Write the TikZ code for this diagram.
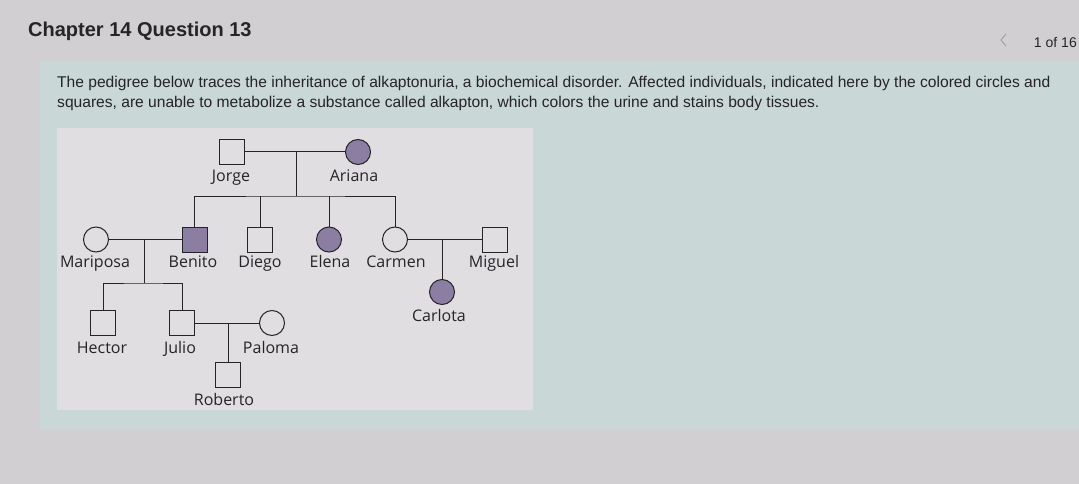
\documentclass[tikz,border=0pt]{standalone}
\usepackage{fontspec}
\setmainfont{Liberation Sans}
\newfontfamily\pedfont{Open Sans}
\definecolor{bgcol}{RGB}{210,207,210}
\definecolor{tealcol}{RGB}{201,215,215}
\definecolor{panelcol}{RGB}{224,222,225}
\definecolor{affcol}{RGB}{140,126,162}
\definecolor{inkcol}{RGB}{38,36,40}
\definecolor{chevcol}{RGB}{165,160,165}
\tikzset{
  x=1pt, y=-1pt,
  person/.style={draw=inkcol, line width=1pt, minimum size=25pt, inner sep=0pt},
  sq/.style={person, rectangle},
  ci/.style={person, circle},
  aff/.style={fill=affcol},
  unaff/.style={fill=panelcol},
  pname/.style={font=\pedfont\fontsize{16}{18}\selectfont, text=inkcol, inner sep=0pt, anchor=base},
  link/.style={draw=inkcol, line width=1pt},
  bodytext/.style={font=\fontsize{15.6}{20}\selectfont, text=inkcol, inner sep=0pt, anchor=base west},
}
\begin{document}
\begin{tikzpicture}
\useasboundingbox (0,0) rectangle (1079,484);
% backgrounds
\fill[bgcol] (0,0) rectangle (1079,484);
\fill[tealcol] (40,62) rectangle (1079,430);
\fill[panelcol] (57,128) rectangle (533,410);
% header
\node[font=\bfseries\fontsize{20}{24}\selectfont, text=inkcol, inner sep=0pt, anchor=base west] (title) at (28,37) {Chapter 14 Question 13};
\draw[chevcol, line width=1pt, line cap=round, line join=round] (1006,34) -- (1001,40) -- (1006,46);
\node[font=\fontsize{14}{17}\selectfont, text=inkcol, inner sep=0pt, anchor=base east] (pager) at (1077,48) {1 of 16};
\node[bodytext] (line1) at (57,88) {The pedigree below traces the inheritance of alkaptonuria, a biochemical disorder. Affected individuals, indicated here by the colored circles and};
\node[bodytext] (line2) at (57,108) {squares, are unable to metabolize a substance called alkapton, which colors the urine and stains body tissues.};
% individuals
\node[sq, unaff] (jorge) at (232,152) {};
\node[ci, aff] (ariana) at (358,152) {};
\node[ci, unaff] (mariposa) at (96,239.5) {};
\node[sq, aff] (benito) at (194.5,239.5) {};
\node[sq, unaff] (diego) at (260,239.5) {};
\node[ci, aff] (elena) at (329,239.5) {};
\node[ci, unaff] (carmen) at (395,239.5) {};
\node[sq, unaff] (miguel) at (494.5,239.5) {};
\node[ci, aff] (carlota) at (442,292) {};
\node[sq, unaff] (hector) at (103,323) {};
\node[sq, unaff] (julio) at (182,323) {};
\node[ci, unaff] (paloma) at (272,323) {};
\node[sq, unaff] (roberto) at (228,375) {};
% names
\node[pname] (tjorge) at (231,181) {Jorge};
\node[pname] (tariana) at (354,181) {Ariana};
\node[pname] (tmariposa) at (95,267) {Mariposa};
\node[pname] (tbenito) at (193,267) {Benito};
\node[pname] (tdiego) at (260,267) {Diego};
\node[pname] (telena) at (330,267) {Elena};
\node[pname] (tcarmen) at (396,267) {Carmen};
\node[pname] (tmiguel) at (494,267) {Miguel};
\node[pname] (tcarlota) at (439,321) {Carlota};
\node[pname] (thector) at (102,353) {Hector};
\node[pname] (tjulio) at (180,353) {Julio};
\node[pname] (tpaloma) at (271,353) {Paloma};
\node[pname] (troberto) at (224,405) {Roberto};
% couples and descent
\coordinate (m1) at (296,152);
\coordinate (s1) at (296,196);
\coordinate (m2) at (144,239.5);
\coordinate (s2) at (144,283);
\coordinate (m3) at (442,239.5);
\coordinate (m4) at (228,323);
\draw[link] (jorge) -- (ariana);
\draw[link] (m1) -- (s1);
\draw[link] (benito.north) |- (s1) -| (carmen.north);
\draw[link] (diego.north) -- (diego.north |- s1);
\draw[link] (elena.north) -- (elena.north |- s1);
\draw[link] (mariposa) -- (benito);
\draw[link] (m2) -- (s2);
\draw[link] (hector.north) |- (s2) -| (julio.north);
\draw[link] (carmen) -- (miguel);
\draw[link] (m3) -- (carlota.north);
\draw[link] (julio) -- (paloma);
\draw[link] (m4) -- (roberto.north);
\end{tikzpicture}
\end{document}
